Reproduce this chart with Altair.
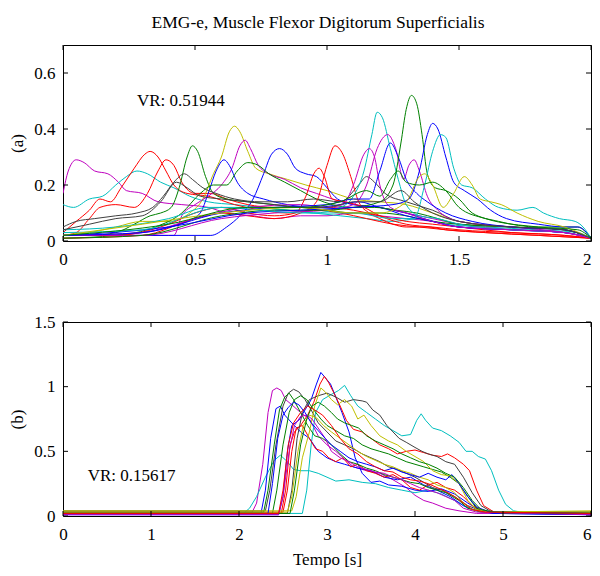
import altair as alt
import pandas as pd

# ---------------- colours (MATLAB style) ----------------
BLUE = "#0000ff"
GREEN = "#008000"
RED = "#ff0000"
CYAN = "#00bfbf"
MAGENTA = "#bf00bf"
YELLOW = "#bfbf00"
GRAY = "#404040"

# ---------------- text ----------------
title_text = "EMG-e, Muscle Flexor Digitorum Superficialis"
ylabel_a = "(a)"
ylabel_b = "(b)"
xlabel_b = "Tempo [s]"
vr_a_text = "VR: 0.51944"
vr_b_text = "VR: 0.15617"
vr_a_pos = (0.28, 0.50)
vr_b_pos = (0.28, 0.31)

# ---------------- ticks ----------------
a_xticks = [0, 0.5, 1, 1.5, 2]
a_yticks = [0, 0.2, 0.4, 0.6]
b_xticks = [0, 1, 2, 3, 4, 5, 6]
b_yticks = [0, 0.5, 1, 1.5]
a_xdomain = [0, 2]
a_ydomain = [0, 0.7]
b_xdomain = [0, 6]
b_ydomain = [0, 1.5]

# ---------------- panel (a) curves ----------------
a_magenta_1 = [(0,0.17),(0.02,0.25),(0.05,0.29),(0.08,0.28),(0.12,0.25),(0.17,0.24),(0.21,0.21),(0.24,0.18),(0.3,0.17),(0.36,0.14),(0.45,0.13),(0.55,0.12),(0.62,0.10),(0.72,0.09),(0.8,0.08),(0.9,0.09),(1.0,0.09),(1.1,0.10),(1.2,0.09),(1.3,0.08),(1.4,0.07),(1.5,0.05),(1.7,0.04),(1.9,0.03),(2.0,0.01)]
a_cyan_1 = [(0,0.13),(0.04,0.12),(0.1,0.15),(0.15,0.16),(0.2,0.2),(0.24,0.23),(0.28,0.25),(0.32,0.24),(0.37,0.21),(0.42,0.19),(0.48,0.16),(0.55,0.14),(0.65,0.13),(0.75,0.12),(0.85,0.11),(0.95,0.1),(1.05,0.09),(1.15,0.08),(1.25,0.07),(1.35,0.08),(1.45,0.06),(1.6,0.05),(1.8,0.04),(1.95,0.03),(2.0,0.01)]
a_red_1 = [(0,0.03),(0.05,0.07),(0.1,0.11),(0.14,0.15),(0.18,0.14),(0.22,0.19),(0.27,0.26),(0.31,0.31),(0.33,0.32),(0.36,0.3),(0.39,0.25),(0.42,0.2),(0.47,0.17),(0.55,0.16),(0.65,0.13),(0.75,0.11),(0.85,0.10),(0.95,0.11),(1.05,0.1),(1.15,0.08),(1.25,0.06),(1.35,0.05),(1.45,0.04),(1.6,0.03),(1.8,0.02),(2.0,0.01)]
a_red_2 = [(0,0.02),(0.05,0.03),(0.1,0.08),(0.14,0.12),(0.2,0.13),(0.27,0.12),(0.32,0.17),(0.36,0.25),(0.39,0.29),(0.42,0.27),(0.45,0.21),(0.5,0.17),(0.56,0.17),(0.62,0.15),(0.7,0.13),(0.8,0.12),(0.9,0.12),(1.0,0.12),(1.1,0.11),(1.2,0.09),(1.3,0.07),(1.4,0.06),(1.5,0.05),(1.7,0.03),(1.9,0.02),(2.0,0.01)]
a_green_1 = [(0,0.02),(0.1,0.02),(0.2,0.03),(0.27,0.06),(0.33,0.09),(0.37,0.1),(0.41,0.12),(0.44,0.19),(0.47,0.3),(0.49,0.34),(0.51,0.32),(0.54,0.23),(0.57,0.17),(0.62,0.15),(0.7,0.14),(0.8,0.13),(0.9,0.12),(1.0,0.11),(1.1,0.10),(1.2,0.10),(1.3,0.09),(1.4,0.07),(1.5,0.06),(1.7,0.05),(1.9,0.04),(2.0,0.01)]
a_yellow_1 = [(0,0.02),(0.1,0.03),(0.2,0.05),(0.3,0.07),(0.4,0.07),(0.48,0.1),(0.53,0.15),(0.57,0.24),(0.6,0.30),(0.63,0.39),(0.65,0.41),(0.67,0.39),(0.7,0.32),(0.73,0.26),(0.78,0.24),(0.85,0.22),(0.92,0.20),(1.0,0.18),(1.1,0.15),(1.2,0.14),(1.3,0.13),(1.4,0.1),(1.5,0.07),(1.7,0.05),(1.9,0.04),(2.0,0.01)]
a_magenta_2 = [(0,0.02),(0.2,0.02),(0.42,0.02),(0.45,0.09),(0.5,0.13),(0.55,0.16),(0.6,0.2),(0.64,0.26),(0.67,0.34),(0.69,0.36),(0.71,0.33),(0.74,0.27),(0.78,0.24),(0.84,0.22),(0.9,0.19),(0.96,0.17),(1.02,0.15),(1.1,0.13),(1.2,0.12),(1.3,0.1),(1.4,0.08),(1.5,0.06),(1.7,0.04),(1.9,0.03),(2.0,0.01)]
a_blue_1 = [(0,0.02),(0.15,0.02),(0.3,0.03),(0.4,0.05),(0.47,0.07),(0.52,0.1),(0.55,0.17),(0.58,0.25),(0.61,0.29),(0.63,0.27),(0.66,0.21),(0.7,0.17),(0.76,0.15),(0.85,0.13),(0.95,0.12),(1.05,0.13),(1.12,0.14),(1.2,0.12),(1.3,0.1),(1.4,0.07),(1.5,0.05),(1.7,0.04),(1.9,0.03),(2.0,0.01)]
a_blue_2 = [(0,0.02),(0.2,0.02),(0.4,0.02),(0.5,0.02),(0.56,0.02),(0.62,0.05),(0.67,0.09),(0.72,0.15),(0.76,0.24),(0.79,0.31),(0.82,0.33),(0.85,0.31),(0.88,0.26),(0.92,0.24),(0.96,0.23),(1.0,0.19),(1.04,0.15),(1.1,0.13),(1.2,0.12),(1.3,0.09),(1.4,0.07),(1.5,0.05),(1.7,0.04),(1.9,0.03),(2.0,0.01)]
a_green_2 = [(0,0.01),(0.2,0.02),(0.35,0.05),(0.45,0.1),(0.52,0.17),(0.57,0.2),(0.62,0.2),(0.66,0.25),(0.7,0.28),(0.74,0.27),(0.78,0.24),(0.84,0.21),(0.9,0.18),(0.96,0.15),(1.02,0.13),(1.1,0.12),(1.18,0.12),(1.26,0.11),(1.34,0.1),(1.42,0.08),(1.5,0.06),(1.7,0.05),(1.9,0.04),(2.0,0.01)]
a_gray_1 = [(0,0.05),(0.05,0.07),(0.12,0.08),(0.2,0.09),(0.28,0.1),(0.34,0.12),(0.38,0.16),(0.42,0.21),(0.46,0.24),(0.49,0.22),(0.53,0.19),(0.58,0.17),(0.65,0.15),(0.75,0.14),(0.85,0.14),(0.95,0.15),(1.05,0.14),(1.12,0.2),(1.15,0.23),(1.18,0.21),(1.22,0.17),(1.3,0.14),(1.4,0.11),(1.5,0.07),(1.7,0.05),(1.9,0.04),(2.0,0.01)]
a_red_3 = [(0,0.02),(0.2,0.02),(0.4,0.06),(0.5,0.1),(0.6,0.12),(0.7,0.1),(0.8,0.09),(0.88,0.1),(0.92,0.16),(0.95,0.24),(0.97,0.26),(0.99,0.23),(1.02,0.15),(1.07,0.14),(1.14,0.12),(1.2,0.09),(1.3,0.06),(1.4,0.05),(1.5,0.04),(1.7,0.03),(1.9,0.02),(2.0,0.01)]
a_red_4 = [(0,0.01),(0.3,0.02),(0.5,0.08),(0.6,0.1),(0.7,0.09),(0.8,0.08),(0.9,0.1),(0.96,0.14),(1.0,0.27),(1.03,0.34),(1.06,0.31),(1.09,0.23),(1.12,0.14),(1.16,0.1),(1.2,0.08),(1.25,0.06),(1.3,0.05),(1.38,0.05),(1.45,0.04),(1.6,0.03),(1.8,0.02),(2.0,0.01)]
a_cyan_2 = [(0,0.04),(0.2,0.05),(0.4,0.08),(0.55,0.12),(0.7,0.12),(0.85,0.11),(0.95,0.1),(1.05,0.12),(1.1,0.16),(1.14,0.25),(1.17,0.38),(1.19,0.46),(1.21,0.44),(1.24,0.33),(1.27,0.22),(1.3,0.13),(1.35,0.09),(1.42,0.08),(1.5,0.06),(1.7,0.04),(1.9,0.03),(2.0,0.01)]
a_magenta_3 = [(0,0.02),(0.3,0.03),(0.5,0.08),(0.7,0.12),(0.9,0.13),(1.0,0.12),(1.06,0.13),(1.1,0.2),(1.14,0.31),(1.16,0.33),(1.18,0.3),(1.2,0.2),(1.24,0.12),(1.3,0.1),(1.4,0.07),(1.5,0.05),(1.7,0.04),(1.9,0.03),(2.0,0.01)]
a_magenta_4 = [(0,0.02),(0.3,0.02),(0.6,0.08),(0.8,0.1),(1.0,0.11),(1.1,0.13),(1.15,0.2),(1.19,0.33),(1.23,0.38),(1.26,0.33),(1.29,0.22),(1.31,0.27),(1.33,0.29),(1.35,0.25),(1.38,0.16),(1.42,0.11),(1.5,0.07),(1.7,0.05),(1.9,0.03),(2.0,0.01)]
a_blue_3 = [(0,0.02),(0.3,0.03),(0.6,0.1),(0.8,0.12),(1.0,0.13),(1.1,0.15),(1.16,0.15),(1.2,0.25),(1.24,0.35),(1.27,0.3),(1.3,0.22),(1.34,0.17),(1.38,0.14),(1.45,0.1),(1.55,0.07),(1.7,0.05),(1.9,0.04),(2.0,0.01)]
a_green_3 = [(0,0.01),(0.3,0.02),(0.6,0.09),(0.8,0.11),(1.0,0.11),(1.1,0.12),(1.2,0.14),(1.25,0.2),(1.28,0.35),(1.3,0.47),(1.32,0.52),(1.34,0.49),(1.36,0.38),(1.38,0.24),(1.41,0.19),(1.45,0.18),(1.5,0.15),(1.55,0.1),(1.65,0.07),(1.8,0.05),(1.95,0.05),(2.0,0.01)]
a_blue_4 = [(0,0.02),(0.4,0.05),(0.7,0.1),(0.9,0.11),(1.1,0.12),(1.25,0.13),(1.31,0.15),(1.35,0.25),(1.38,0.38),(1.4,0.42),(1.42,0.40),(1.45,0.3),(1.48,0.21),(1.52,0.18),(1.57,0.15),(1.62,0.11),(1.68,0.08),(1.8,0.06),(1.9,0.05),(1.95,0.05),(2.0,0.01)]
a_cyan_3 = [(0,0.03),(0.3,0.04),(0.6,0.12),(0.9,0.1),(1.1,0.1),(1.25,0.08),(1.33,0.08),(1.37,0.2),(1.4,0.32),(1.43,0.38),(1.45,0.37),(1.48,0.26),(1.51,0.2),(1.55,0.19),(1.6,0.15),(1.65,0.12),(1.72,0.11),(1.78,0.12),(1.82,0.1),(1.88,0.08),(1.94,0.07),(1.97,0.05),(2.0,0.01)]
a_yellow_2 = [(0,0.02),(0.3,0.06),(0.6,0.1),(0.9,0.12),(1.1,0.1),(1.2,0.1),(1.3,0.14),(1.35,0.23),(1.37,0.24),(1.4,0.2),(1.44,0.12),(1.48,0.17),(1.52,0.23),(1.55,0.2),(1.58,0.15),(1.62,0.14),(1.66,0.13),(1.72,0.1),(1.8,0.07),(1.9,0.05),(2.0,0.01)]
a_gray_2 = [(0,0.04),(0.1,0.06),(0.2,0.08),(0.3,0.09),(0.37,0.14),(0.43,0.21),(0.47,0.19),(0.52,0.16),(0.6,0.15),(0.7,0.14),(0.8,0.13),(0.9,0.12),(1.0,0.12),(1.1,0.14),(1.2,0.14),(1.28,0.18),(1.33,0.14),(1.4,0.1),(1.5,0.07),(1.7,0.05),(1.9,0.04),(2.0,0.01)]
a_green_4 = [(0,0.02),(0.4,0.06),(0.7,0.12),(0.9,0.12),(1.05,0.14),(1.15,0.18),(1.2,0.16),(1.24,0.22),(1.27,0.25),(1.3,0.21),(1.35,0.2),(1.4,0.21),(1.45,0.18),(1.5,0.12),(1.6,0.08),(1.8,0.05),(1.95,0.04),(2.0,0.01)]

a_curves = [
    (MAGENTA, a_magenta_1), (CYAN, a_cyan_1), (RED, a_red_1), (RED, a_red_2),
    (GREEN, a_green_1), (YELLOW, a_yellow_1), (MAGENTA, a_magenta_2), (BLUE, a_blue_1),
    (BLUE, a_blue_2), (GREEN, a_green_2), (GRAY, a_gray_1), (RED, a_red_3),
    (RED, a_red_4), (CYAN, a_cyan_2), (MAGENTA, a_magenta_3), (MAGENTA, a_magenta_4),
    (BLUE, a_blue_3), (GREEN, a_green_3), (BLUE, a_blue_4), (CYAN, a_cyan_3),
    (YELLOW, a_yellow_2), (GRAY, a_gray_2), (GREEN, a_green_4),
]

# ---------------- panel (b) curves ----------------
b_magenta_1 = [(0,0.03),(2.15,0.03),(2.2,0.1),(2.27,0.4),(2.33,0.8),(2.38,0.97),(2.43,0.99),(2.48,0.97),(2.53,0.9),(2.6,0.86),(2.7,0.8),(2.8,0.75),(2.9,0.62),(3.0,0.55),(3.1,0.5),(3.2,0.44),(3.3,0.38),(3.45,0.35),(3.6,0.33),(3.75,0.28),(3.9,0.22),(4.0,0.16),(4.1,0.12),(4.2,0.1),(4.35,0.06),(4.5,0.04),(4.7,0.02),(6,0.02)]
b_cyan_1 = [(0,0.02),(2.05,0.02),(2.12,0.06),(2.2,0.15),(2.3,0.3),(2.4,0.43),(2.47,0.47),(2.55,0.42),(2.62,0.36),(2.7,0.35),(2.8,0.35),(2.9,0.33),(3.0,0.3),(3.1,0.27),(3.25,0.28),(3.4,0.26),(3.55,0.25),(3.7,0.22),(3.85,0.2),(4.0,0.18),(4.15,0.2),(4.3,0.17),(4.45,0.12),(4.6,0.06),(4.8,0.03),(6,0.02)]
b_cyan_2 = [(0,0.02),(2.72,0.02),(2.77,0.2),(2.82,0.55),(2.87,0.8),(2.95,0.9),(3.05,0.94),(3.13,0.97),(3.2,1.01),(3.27,0.93),(3.35,0.85),(3.45,0.8),(3.55,0.75),(3.65,0.7),(3.75,0.66),(3.85,0.62),(3.95,0.63),(4.02,0.74),(4.07,0.79),(4.12,0.74),(4.2,0.68),(4.3,0.66),(4.4,0.62),(4.5,0.57),(4.58,0.5),(4.65,0.5),(4.72,0.46),(4.8,0.44),(4.87,0.35),(4.95,0.2),(5.03,0.09),(5.12,0.04),(5.3,0.02),(6,0.02)]
b_blue_1 = [(0,0.02),(2.25,0.02),(2.3,0.2),(2.36,0.6),(2.42,0.83),(2.47,0.85),(2.52,0.78),(2.6,0.72),(2.7,0.65),(2.8,0.6),(2.9,0.5),(3.0,0.45),(3.1,0.42),(3.2,0.4),(3.35,0.37),(3.5,0.35),(3.65,0.3),(3.8,0.28),(3.95,0.3),(4.1,0.24),(4.25,0.2),(4.4,0.15),(4.55,0.08),(4.7,0.04),(4.9,0.02),(6,0.01)]
b_blue_2 = [(0,0.01),(2.45,0.01),(2.5,0.15),(2.55,0.5),(2.6,0.7),(2.68,0.74),(2.75,0.82),(2.82,0.9),(2.88,1.02),(2.93,1.11),(2.98,1.07),(3.04,1.02),(3.1,0.92),(3.17,0.8),(3.25,0.65),(3.32,0.45),(3.4,0.33),(3.5,0.26),(3.6,0.27),(3.7,0.24),(3.85,0.23),(4.0,0.2),(4.15,0.19),(4.3,0.21),(4.45,0.17),(4.6,0.1),(4.75,0.04),(4.9,0.02),(6,0.01)]
b_red_1 = [(0,0.02),(2.48,0.02),(2.53,0.2),(2.58,0.55),(2.63,0.65),(2.7,0.7),(2.78,0.78),(2.85,0.88),(2.92,1.02),(2.97,1.08),(3.02,1.03),(3.08,0.95),(3.15,0.85),(3.22,0.74),(3.3,0.67),(3.4,0.65),(3.5,0.6),(3.6,0.55),(3.7,0.52),(3.8,0.48),(3.9,0.5),(4.0,0.51),(4.1,0.49),(4.2,0.47),(4.3,0.46),(4.37,0.48),(4.45,0.45),(4.55,0.4),(4.62,0.35),(4.7,0.2),(4.78,0.08),(4.9,0.03),(6,0.02)]
b_red_2 = [(0,0.03),(2.5,0.03),(2.55,0.2),(2.6,0.5),(2.65,0.68),(2.72,0.7),(2.8,0.6),(2.87,0.52),(2.95,0.5),(3.02,0.45),(3.1,0.42),(3.18,0.45),(3.27,0.38),(3.35,0.4),(3.45,0.35),(3.55,0.33),(3.65,0.3),(3.75,0.32),(3.85,0.28),(3.95,0.22),(4.05,0.2),(4.15,0.24),(4.25,0.26),(4.35,0.22),(4.45,0.2),(4.55,0.15),(4.65,0.08),(4.8,0.03),(6,0.02)]
b_gray_1 = [(0,0.04),(2.3,0.04),(2.35,0.2),(2.42,0.55),(2.5,0.85),(2.56,0.95),(2.62,0.98),(2.68,0.96),(2.75,0.9),(2.82,0.82),(2.9,0.72),(3.0,0.65),(3.1,0.58),(3.2,0.55),(3.3,0.52),(3.4,0.48),(3.5,0.45),(3.6,0.42),(3.7,0.38),(3.8,0.36),(3.9,0.33),(4.0,0.3),(4.1,0.26),(4.2,0.22),(4.3,0.2),(4.45,0.15),(4.6,0.08),(4.75,0.04),(4.9,0.03),(6,0.03)]
b_gray_2 = [(0,0.02),(2.55,0.02),(2.6,0.2),(2.66,0.6),(2.72,0.8),(2.8,0.9),(2.9,0.93),(3.0,0.95),(3.1,0.92),(3.2,0.88),(3.3,0.9),(3.4,0.89),(3.45,0.88),(3.52,0.82),(3.6,0.78),(3.68,0.7),(3.75,0.65),(3.82,0.6),(3.9,0.57),(4.0,0.53),(4.08,0.5),(4.15,0.48),(4.25,0.46),(4.35,0.42),(4.45,0.4),(4.55,0.3),(4.65,0.18),(4.75,0.08),(4.85,0.04),(5.0,0.02),(6,0.02)]
b_green_1 = [(0,0.03),(2.28,0.03),(2.33,0.2),(2.4,0.55),(2.46,0.82),(2.52,0.92),(2.57,0.95),(2.62,0.9),(2.7,0.8),(2.78,0.7),(2.86,0.62),(2.95,0.6),(3.05,0.55),(3.15,0.48),(3.25,0.42),(3.35,0.4),(3.45,0.37),(3.55,0.35),(3.65,0.32),(3.75,0.3),(3.85,0.28),(3.95,0.26),(4.05,0.25),(4.15,0.22),(4.25,0.2),(4.35,0.18),(4.5,0.12),(4.6,0.06),(4.75,0.03),(6,0.02)]
b_green_2 = [(0,0.02),(2.38,0.02),(2.43,0.2),(2.5,0.55),(2.57,0.8),(2.63,0.9),(2.7,0.93),(2.77,0.9),(2.85,0.82),(2.93,0.75),(3.0,0.7),(3.1,0.66),(3.2,0.62),(3.3,0.6),(3.4,0.55),(3.5,0.52),(3.6,0.5),(3.7,0.48),(3.8,0.45),(3.9,0.42),(4.0,0.4),(4.1,0.38),(4.2,0.36),(4.3,0.34),(4.4,0.3),(4.5,0.25),(4.6,0.15),(4.7,0.06),(4.8,0.03),(6,0.03)]
b_yellow_1 = [(0,0.04),(2.6,0.04),(2.65,0.15),(2.72,0.45),(2.8,0.65),(2.86,0.85),(2.93,0.99),(2.98,0.96),(3.05,0.9),(3.12,0.86),(3.2,0.9),(3.28,0.85),(3.35,0.75),(3.42,0.78),(3.5,0.7),(3.6,0.62),(3.7,0.58),(3.8,0.55),(3.9,0.5),(4.0,0.46),(4.1,0.42),(4.2,0.35),(4.3,0.32),(4.4,0.31),(4.5,0.25),(4.6,0.12),(4.7,0.05),(4.85,0.03),(6,0.04)]
b_yellow_2 = [(0,0.03),(2.55,0.03),(2.6,0.15),(2.67,0.5),(2.73,0.7),(2.8,0.78),(2.88,0.76),(2.96,0.7),(3.05,0.65),(3.15,0.6),(3.25,0.55),(3.35,0.5),(3.45,0.46),(3.55,0.43),(3.65,0.4),(3.75,0.38),(3.85,0.35),(3.95,0.33),(4.05,0.3),(4.15,0.28),(4.25,0.24),(4.35,0.22),(4.45,0.18),(4.55,0.1),(4.65,0.05),(4.8,0.03),(6,0.03)]
b_magenta_2 = [(0,0.01),(2.45,0.01),(2.5,0.15),(2.57,0.5),(2.63,0.7),(2.7,0.77),(2.77,0.78),(2.83,0.75),(2.9,0.68),(2.98,0.6),(3.05,0.5),(3.15,0.45),(3.25,0.42),(3.35,0.38),(3.45,0.36),(3.55,0.34),(3.65,0.33),(3.75,0.3),(3.85,0.28),(3.95,0.25),(4.05,0.22),(4.15,0.2),(4.25,0.18),(4.35,0.15),(4.45,0.12),(4.55,0.06),(4.7,0.03),(6,0.01)]
b_blue_3 = [(0,0.02),(2.33,0.02),(2.38,0.25),(2.44,0.6),(2.5,0.78),(2.56,0.84),(2.62,0.88),(2.68,0.86),(2.75,0.8),(2.82,0.72),(2.9,0.66),(2.98,0.6),(3.05,0.55),(3.15,0.5),(3.25,0.45),(3.35,0.42),(3.45,0.4),(3.55,0.38),(3.65,0.35),(3.75,0.37),(3.85,0.34),(3.95,0.32),(4.05,0.3),(4.15,0.33),(4.25,0.3),(4.35,0.28),(4.42,0.32),(4.5,0.25),(4.6,0.15),(4.7,0.07),(4.85,0.03),(6,0.02)]
b_green_3 = [(0,0.02),(2.58,0.02),(2.63,0.2),(2.7,0.55),(2.77,0.75),(2.83,0.85),(2.9,0.88),(2.97,0.85),(3.05,0.8),(3.12,0.75),(3.2,0.72),(3.28,0.7),(3.36,0.68),(3.45,0.62),(3.55,0.58),(3.65,0.55),(3.75,0.52),(3.85,0.48),(3.95,0.45),(4.05,0.42),(4.15,0.4),(4.25,0.37),(4.35,0.33),(4.45,0.3),(4.55,0.22),(4.65,0.12),(4.75,0.05),(4.9,0.03),(6,0.02)]
b_red_3 = [(0,0.02),(2.45,0.02),(2.5,0.2),(2.56,0.55),(2.62,0.72),(2.7,0.8),(2.78,0.85),(2.86,0.82),(2.95,0.78),(3.05,0.7),(3.15,0.6),(3.25,0.52),(3.35,0.48),(3.45,0.42),(3.55,0.38),(3.65,0.35),(3.75,0.34),(3.85,0.3),(3.95,0.28),(4.05,0.27),(4.15,0.25),(4.25,0.22),(4.35,0.19),(4.45,0.15),(4.55,0.1),(4.65,0.05),(4.8,0.03),(6,0.02)]

b_curves = [
    (MAGENTA, b_magenta_1), (CYAN, b_cyan_1), (CYAN, b_cyan_2), (BLUE, b_blue_1),
    (BLUE, b_blue_2), (RED, b_red_1), (RED, b_red_2), (GRAY, b_gray_1),
    (GRAY, b_gray_2), (GREEN, b_green_1), (GREEN, b_green_2), (YELLOW, b_yellow_1),
    (YELLOW, b_yellow_2), (MAGENTA, b_magenta_2), (BLUE, b_blue_3), (GREEN, b_green_3),
    (RED, b_red_3),
]


def to_frame(curves):
    rows = []
    for cid, (col, pts) in enumerate(curves):
        for i, (x, y) in enumerate(pts):
            rows.append({"x": x, "y": y, "curve": cid, "col": col, "i": i})
    return pd.DataFrame(rows)


FONT = "Liberation Serif"
FS = 17
W = 528
H_A = 196
H_B = 194
TICK = 5


def panel(curves, xticks, yticks, xdom, ydom, ylab, xlab, vr_text, vr_pos, h, interp, title=None):
    xs = alt.Scale(domain=xdom, nice=False, zero=False)
    ys = alt.Scale(domain=ydom, nice=False, zero=False)
    last = xdom[1]
    xax = alt.Axis(values=xticks, format="~g", title=xlab, labelPadding=10,
                   labelAlign={"condition": {"test": f"datum.value >= {last}", "value": "right"},
                               "value": "center"})
    yax = alt.Axis(values=yticks, format="~g", title=ylab)
    X = alt.X("x:Q", scale=xs, axis=xax)
    Y = alt.Y("y:Q", scale=ys, axis=yax)

    lines = alt.Chart(to_frame(curves)).mark_line(
        strokeWidth=1.0, interpolate=interp, clip=True
    ).encode(x=X, y=Y, color=alt.Color("col:N", scale=None),
             detail="curve:N", order="i:Q")

    xt = pd.DataFrame({"x": xticks})
    yt = pd.DataFrame({"y": yticks})
    tb = alt.Chart(xt).mark_rule(color="black", strokeWidth=1).encode(
        x=X, y=alt.value(h), y2=alt.value(h - TICK))
    tt = alt.Chart(xt).mark_rule(color="black", strokeWidth=1).encode(
        x=X, y=alt.value(0), y2=alt.value(TICK))
    tl = alt.Chart(yt).mark_rule(color="black", strokeWidth=1).encode(
        y=Y, x=alt.value(0), x2=alt.value(TICK))
    tr = alt.Chart(yt).mark_rule(color="black", strokeWidth=1).encode(
        y=Y, x=alt.value(W - TICK), x2=alt.value(W))

    txt = alt.Chart(pd.DataFrame({"x": [vr_pos[0]], "y": [vr_pos[1]], "t": [vr_text]})).mark_text(
        align="left", baseline="middle", font=FONT, fontSize=FS, color="black"
    ).encode(x=X, y=Y, text="t:N")

    props = dict(width=W, height=h)
    if title is not None:
        props["title"] = alt.TitleParams(
            text=title, font=FONT, fontSize=17.5, fontWeight="normal",
            color="black", anchor="middle", frame="group", offset=13, dx=-9)
    return alt.layer(lines, tb, tt, tl, tr, txt).properties(**props)


top = panel(a_curves, a_xticks, a_yticks, a_xdomain, a_ydomain, ylabel_a, None,
            vr_a_text, vr_a_pos, H_A, "monotone", title=title_text)
bottom = panel(b_curves, b_xticks, b_yticks, b_xdomain, b_ydomain, ylabel_b, xlabel_b,
               vr_b_text, vr_b_pos, H_B, "linear")

chart = alt.vconcat(top, bottom, spacing=44).properties(
    padding={"left": 0, "top": 5, "right": 0, "bottom": 0}
).configure_view(stroke="black", strokeWidth=1).configure_axis(
    labelFont=FONT, labelFontSize=FS, labelColor="black",
    titleFont=FONT, titleFontSize=FS, titleColor="black", titleFontWeight="normal",
    grid=False, domain=False, ticks=False, labelFlush=False, labelOverlap=False,
    labelPadding=8,
).configure_axisY(titlePadding=7).configure_axisX(titlePadding=9)

chart.save("out.html", embed_options={"renderer": "svg", "actions": False})
